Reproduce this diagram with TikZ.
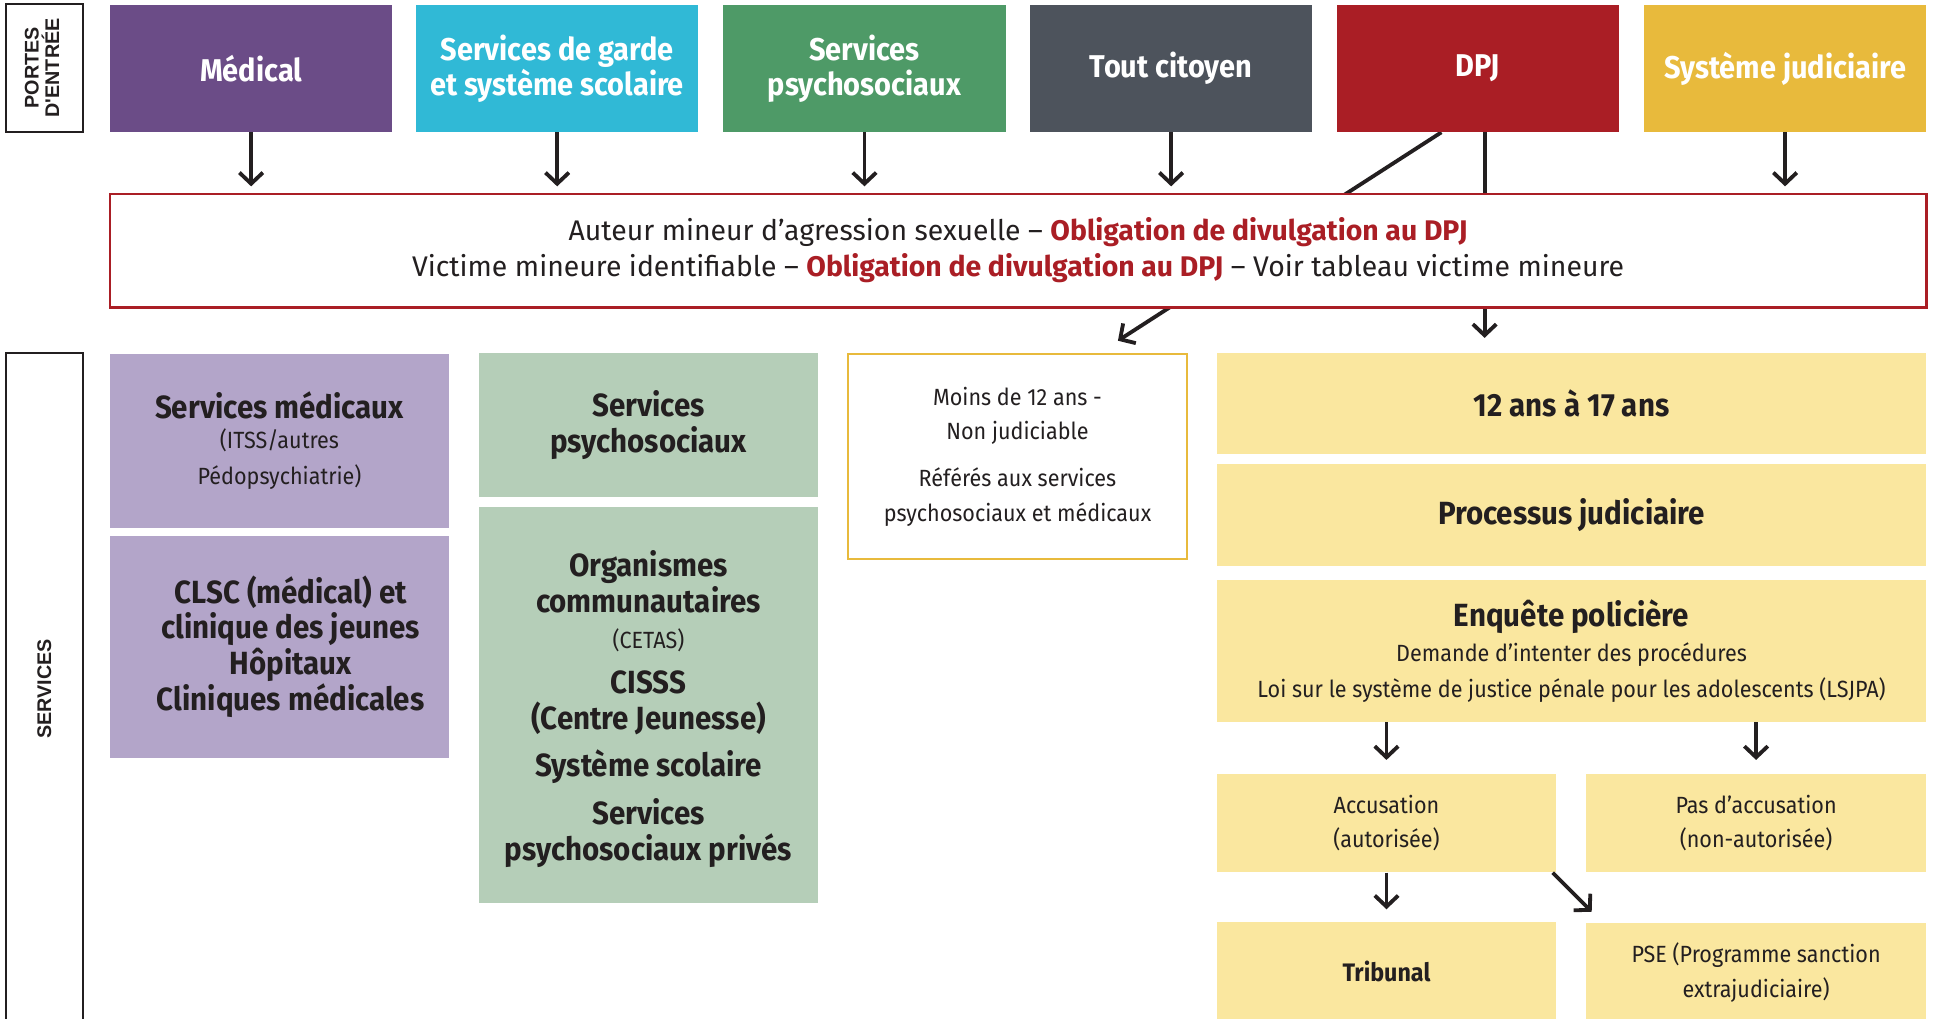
\documentclass[tikz,border=0pt]{standalone}
\usepackage{fontspec}
\setmainfont{Fira Sans}
\newfontfamily\cond{Fira Sans}[FakeStretch=0.92]
\newfontfamily\arial{Liberation Sans}
\usetikzlibrary{arrows.meta,backgrounds}

\definecolor{ink}{HTML}{231F20}
\definecolor{medpurple}{HTML}{6B4C87}
\definecolor{gardecyan}{HTML}{30B9D6}
\definecolor{psygreen}{HTML}{4E9A67}
\definecolor{citgrey}{HTML}{4D535C}
\definecolor{dpjred}{HTML}{AA1E25}
\definecolor{judyellow}{HTML}{E8BA3C}
\definecolor{lightpurple}{HTML}{B3A5C9}
\definecolor{lightgreen}{HTML}{B5CEB8}
\definecolor{lightyellow}{HTML}{FAE79F}

\newcommand{\obl}[1]{{\bfseries\color{dpjred}#1}}
\newcommand{\smalltxt}[1]{{\cond\mdseries\fontsize{19}{27}\selectfont #1}}

\tikzset{
  gate/.style={minimum width=229, minimum height=103, inner sep=0, text=white,
    font=\cond\bfseries\fontsize{25.5}{28}\selectfont, align=center},
  side/.style={draw=ink, line width=1.8pt, minimum width=62, inner sep=0,
    font=\arial\bfseries\fontsize{16}{18}\selectfont, align=center, text=ink},
  svc/.style={minimum width=275, inner sep=0, text=ink, align=center,
    font=\cond\bfseries\fontsize{26}{29}\selectfont},
  plain/.style={svc, font=\cond\fontsize{19}{28}\selectfont},
  wide/.style={svc, minimum width=575, fill=lightyellow},
  arr/.style={draw=ink, line width=3.1pt,
    -{Straight Barb[length=9pt,width=19pt,line width=3.1pt]}},
}

\begin{document}
\begin{tikzpicture}[x=1pt,y=-1pt]
\useasboundingbox (0,0) rectangle (1568,825);

% portes d'entree
\node[side, minimum height=104] (portes) at (36,55) {\rotatebox{90}{\begin{tabular}{@{}c@{}}PORTES\\[-3pt]D'ENTRÉE\end{tabular}}};
\node[gate, fill=medpurple]  (med)   at (203.5,55.5)  {Médical};
\node[gate, fill=gardecyan]  (garde) at (451.5,55.5)  {Services de garde\\et système scolaire};
\node[gate, fill=psygreen]   (psy)   at (700.5,55.5)  {Services\\psychosociaux};
\node[gate, fill=citgrey]    (cit)   at (949,55.5)    {Tout citoyen};
\node[gate, fill=dpjred]     (dpj)   at (1197.5,55.5) {DPJ};
\node[gate, fill=judyellow]  (jud)   at (1446.5,55.5) {Système judiciaire};

% obligation
\node[draw=dpjred, line width=2pt, fill=white, minimum width=1472, minimum height=92,
  inner sep=0, align=center, text=ink, font=\fontsize{23}{29}\selectfont] (oblig) at (825,203)
  {Auteur mineur d’agression sexuelle – \obl{Obligation de divulgation au DPJ}\\
   Victime mineure identifiable – \obl{Obligation de divulgation au DPJ} – Voir tableau victime mineure};

\foreach \g in {med,garde,psy,cit,jud}
  \draw[arr, shorten >=5pt] (\g.south) -- (\g.south |- oblig.north);

% services
\node[side, minimum height=545, anchor=north] (services) at (36,285) {\rotatebox{90}{SERVICES}};

\node[svc, fill=lightpurple, minimum height=141] (medsvc) at (226.5,357)
  {Services médicaux\\[-4pt]\smalltxt{(ITSS/autres}\\\smalltxt{Pédopsychiatrie)}};
\node[svc, fill=lightpurple, minimum height=180] (clsc) at (226.5,524)
  {\hspace*{18pt}CLSC (médical) et\\\hspace*{18pt}clinique des jeunes\\\hspace*{18pt}Hôpitaux\\\hspace*{18pt}Cliniques médicales};
\node[svc, fill=lightgreen, minimum height=117] (psysvc) at (525.5,344.5)
  {Services\\psychosociaux};
\node[svc, fill=lightgreen, minimum height=321] (orgs) at (525.5,571.5) {};
\node[svc] (orgstxt) at ([yshift=-3]orgs.center)
  {Organismes\\communautaires\\\smalltxt{(CETAS)}\\[8pt]CISSS\\(Centre Jeunesse)\\[9pt]Système scolaire\\[10pt]Services\\psychosociaux privés};

\node[plain, draw=judyellow, line width=1.8pt, fill=white, minimum height=166] (moins) at (824.5,370)
  {Moins de 12 ans -\\Non judiciable\\[10pt]Référés aux services\\psychosociaux et médicaux};

\node[wide, minimum height=82] (age)  at (1273.5,327)   {12 ans à 17 ans};
\node[wide, minimum height=83] (proc) at (1273.5,417.5) {Processus judiciaire};
\node[wide, minimum height=115] (enq) at (1273.5,527.5)
  {Enquête policière\\[-1pt]\smalltxt{Demande d’intenter des procédures}\\\smalltxt{Loi sur le système de justice pénale pour les adolescents (LSJPA)}};

\node[plain, fill=lightyellow, minimum height=80] (accu) at (1123.5,667)
  {Accusation\\(autorisée)};
\node[plain, fill=lightyellow, minimum width=276, minimum height=80] (pasaccu) at (1423,667)
  {Pas d’accusation\\(non-autorisée)};
\node[svc, fill=lightyellow, minimum height=80, font=\cond\bfseries\fontsize{20.5}{24}\selectfont] (trib) at (1123.5,787)
  {Tribunal};
\node[plain, fill=lightyellow, minimum width=276, minimum height=80] (pse) at (1423,788)
  {PSE (Programme sanction\\extrajudiciaire)};

% fleches
\begin{scope}[on background layer]
  \draw[arr] ([xshift=-29.5]dpj.south) -- ([shift={(-57,-10)}]moins.north east);
  \draw[arr, shorten >=12pt] ([xshift=5.5]dpj.south) -- ([xshift=5.5]dpj.south |- age.north);
\end{scope}
\draw[arr, shorten >=11pt] (enq.south -| accu.north) -- (accu.north);
\draw[arr, shorten >=11pt] (enq.south -| pasaccu.north) -- (pasaccu.north);
\draw[arr, shorten >=10pt] (accu.south) -- (trib.north);
\draw[arr] ([xshift=-3]accu.south east) -- ([shift={(5,-9)}]pse.north west);
\end{tikzpicture}
\end{document}
